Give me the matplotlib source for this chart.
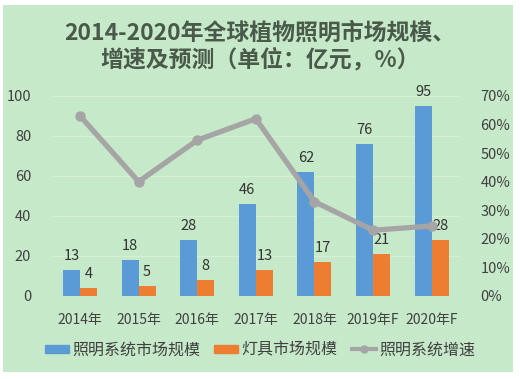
import matplotlib.pyplot as plt
import numpy as np
from matplotlib.patches import Rectangle
from matplotlib.lines import Line2D
from matplotlib.ticker import FuncFormatter

plt.rcParams['font.family'] = ['Noto Sans CJK SC', 'DejaVu Sans']

years = ["2014年", "2015年", "2016年", "2017年", "2018年", "2019年F", "2020年F"]
system_size = [13, 18, 28, 46, 62, 76, 95]
lamp_size = [4, 5, 8, 13, 17, 21, 28]
growth = [63, 40, 54.5, 62, 33, 23, 24.5]

blue = "#5b9bd5"
orange = "#ed7d31"
gray = "#a5a5a5"
txt = "#404040"

fig = plt.figure(figsize=(5.2, 3.79), dpi=100)
fig.patch.set_facecolor("white")
fig.add_artist(Rectangle((3 / 520, 1 - 372 / 379), 510 / 520, 367 / 379,
                         transform=fig.transFigure, facecolor="#c6e9ca",
                         edgecolor="none", zorder=0))

ax = fig.add_axes([0.0975, 0.219, 0.789, 0.528])
ax.set_facecolor("none")
x = np.arange(len(years))
w = 0.29

ax.bar(x - w / 2, system_size, w, color=blue, zorder=2)
ax.bar(x + w / 2, lamp_size, w, color=orange, zorder=2)
for i in range(len(years)):
    ax.text(x[i] - w / 2, system_size[i] + 3.5, str(system_size[i]), ha="center",
            va="bottom", fontsize=10.5, color="#333333", clip_on=False)
    ax.text(x[i] + w / 2, lamp_size[i] + 3.5, str(lamp_size[i]), ha="center",
            va="bottom", fontsize=10.5, color="#333333", clip_on=False)

ax.set_xlim(-0.5, len(years) - 0.5)
ax.set_ylim(0, 100)
ax.set_yticks(range(0, 101, 20))
ax.grid(axis="y", color="#d6f0d8", lw=0.8, zorder=0)
ax.set_xticks(x)
ax.set_xticklabels(years)
ax.tick_params(length=0, labelsize=10, labelcolor=txt)
ax.tick_params(axis="y", pad=14, labelsize=10.5)
ax.tick_params(axis="x", pad=12)
for s in ax.spines.values():
    s.set_visible(False)

ax2 = ax.twinx()
ax2.plot(x, growth, color=gray, lw=3.8, marker="o", markersize=6.5, zorder=3)
ax2.set_ylim(0, 70)
ax2.set_yticks(range(0, 71, 10))
ax2.yaxis.set_major_formatter(FuncFormatter(lambda v, p: f"{int(v)}%"))
ax2.tick_params(length=0, labelsize=10.5, labelcolor=txt, pad=14)
for s in ax2.spines.values():
    s.set_visible(False)

fig.text(0.5, 0.877, "2014-2020年全球植物照明市场规模、\n增速及预测（单位：亿元，%）",
         ha="center", va="center", fontsize=16.5, fontweight="bold",
         color="#4a5a4a", linespacing=1.2)

handles = [Rectangle((0, 0), 1, 1, color=blue),
           Rectangle((0, 0), 1, 1, color=orange),
           Line2D([], [], color=gray, lw=3, marker="o", markersize=5)]
fig.legend(handles, ["照明系统市场规模", "灯具市场规模", "照明系统增速"],
           loc="center", bbox_to_anchor=(0.5, 0.077), ncol=3, frameon=False,
           fontsize=11.5, labelcolor=txt, handlelength=1.5, handleheight=0.4,
           columnspacing=0.9, handletextpad=0.2)

fig.savefig("out.png", dpi=100, facecolor="white")
